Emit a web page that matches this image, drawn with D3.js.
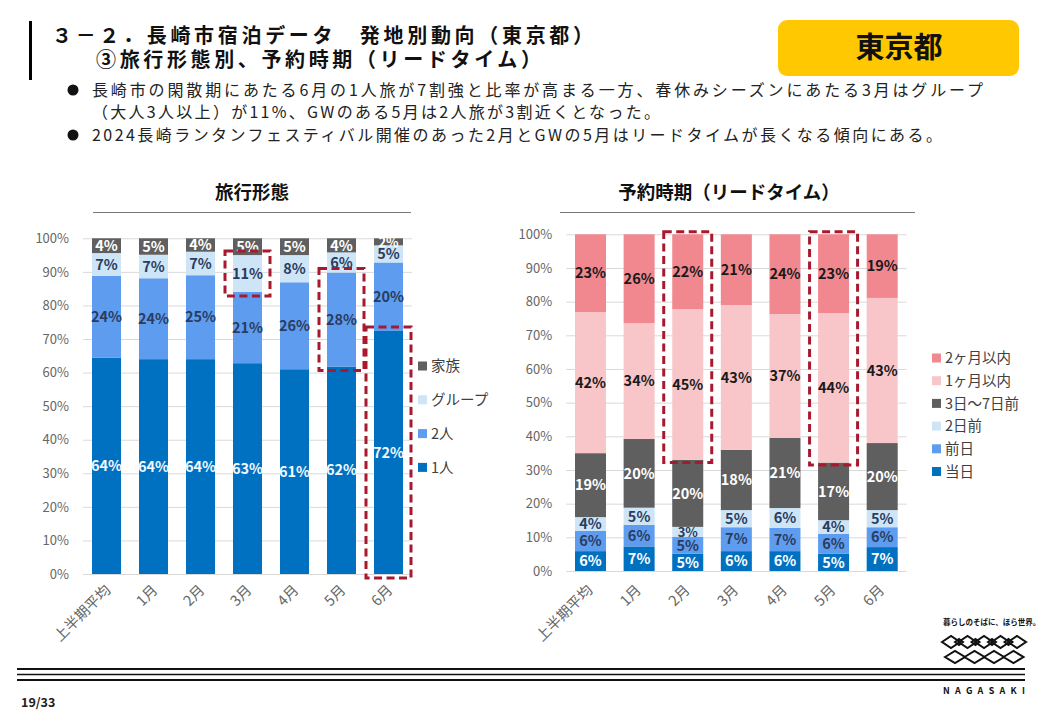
<!DOCTYPE html>
<html><head><meta charset="utf-8">
<script src="https://cdn.jsdelivr.net/npm/d3@7/dist/d3.min.js"></script>
<style>
html,body{margin:0;padding:0;background:#fff;}
svg{display:block;font-family:"Noto Sans CJK JP","Noto Sans",sans-serif;}
</style></head>
<body>
<svg id="c" width="1040" height="720"></svg>
<script>
// ---------- data ----------
const categories = ['上半期平均','1月','2月','3月','4月','5月','6月'];
const yTicks = [0,10,20,30,40,50,60,70,80,90,100];

// 旅行形態 (%)
const styleSeries = ['1人','2人','グループ','家族'];
const solo   = [64.4, 64.0, 64.0, 62.8, 61.0, 61.8, 72.4];
const pair   = [24.4, 24.1, 25.0, 21.2, 25.9, 28.0, 20.4];
const group  = [ 6.8,  7.0,  7.0, 11.0,  8.1,  6.0,  5.1];
const family = [ 4.4,  4.9,  4.0,  5.0,  5.0,  4.2,  2.1];

// 予約時期 (%)
const leadSeries = ['当日','前日','2日前','3日～7日前','1ヶ月以内','2ヶ月以内'];
const sameDay  = [ 5.9,  7.3,  5.1,  5.9,  5.9,  5.1,  7.1];
const prevDay  = [ 6.0,  6.4,  5.0,  7.1,  6.9,  5.9,  5.9];
const twoDays  = [ 4.1,  5.1,  3.0,  5.1,  5.9,  4.1,  5.1];
const week     = [19.0, 20.4, 19.9, 17.9, 20.8, 17.1, 19.9];
const month1   = [41.9, 34.4, 44.8, 43.0, 36.8, 44.4, 43.1];
const month2   = [23.1, 26.4, 22.2, 21.0, 23.7, 23.4, 18.9];

// highlighted (category, series range)
const styleHighlights = [['3月','グループ','グループ'],['5月','2人','2人'],['6月','1人','1人']];
const leadHighlights  = [['2月','1ヶ月以内','2ヶ月以内'],['5月','1ヶ月以内','2ヶ月以内']];

// ---------- drawing ----------
const svg = d3.select('#c');
const FONT = '"Noto Sans CJK JP","Noto Sans",sans-serif';

// header
svg.append('rect').attr('x',29).attr('y',21).attr('width',3).attr('height',59).attr('fill','#000');
svg.append('text').attr('x',52).attr('y',43).attr('font-size',20).attr('font-weight',700).attr('fill','#111')
  .attr('textLength',541).attr('lengthAdjust','spacing').text('３－２．長崎市宿泊データ　発地別動向（東京都）');
svg.append('text').attr('x',96).attr('y',67).attr('font-size',20).attr('font-weight',700).attr('fill','#111')
  .attr('textLength',445).attr('lengthAdjust','spacing').text('③旅行形態別、予約時期（リードタイム）');
svg.append('rect').attr('x',778).attr('y',20).attr('width',241).attr('height',56).attr('rx',9).attr('fill','#FFC800');
svg.append('text').attr('x',899).attr('y',58).attr('text-anchor','middle').attr('font-size',29).attr('font-weight',700).attr('fill','#111').text('東京都');

const bullets = [
  {b:true, x:92, y:96, w:891, t:'長崎市の閑散期にあたる6月の1人旅が7割強と比率が高まる一方、春休みシーズンにあたる3月はグループ'},
  {b:false, x:92, y:118, w:568, t:'（大人3人以上）が11%、GWのある5月は2人旅が3割近くとなった。'},
  {b:true, x:92, y:141, w:850, t:'2024長崎ランタンフェスティバル開催のあった2月とGWの5月はリードタイムが長くなる傾向にある。'}
];
bullets.forEach(d=>{
  if(d.b) svg.append('circle').attr('cx',73).attr('cy',d.y-6).attr('r',5.5).attr('fill','#111');
  svg.append('text').attr('x',d.x).attr('y',d.y).attr('font-size',16).attr('fill','#222')
    .attr('textLength',d.w).attr('lengthAdjust','spacing').text(d.t);
});

// footer
[[669,2.2],[674.5,1.6],[680,2.2]].forEach(([y,w])=>{
  svg.append('line').attr('x1',17).attr('x2',1025).attr('y1',y).attr('y2',y).attr('stroke','#111').attr('stroke-width',w);
});
svg.append('text').attr('x',21).attr('y',707).attr('font-size',12.5).attr('font-weight',700).attr('fill','#222').text('19/33');
// logo
svg.append('text').attr('x',943).attr('y',625).attr('font-size',7.5).attr('font-weight',700).attr('fill','#111').text('暮らしのそばに、ほら世界。');
const lg = svg.append('g').attr('fill','none').attr('stroke','#111').attr('stroke-width',2);
for(let i=0;i<5;i++){ const cx=951+i*16.5, cy=642; lg.append('path').attr('d',`M${cx-9},${cy}L${cx},${cy-6}L${cx+9},${cy}L${cx},${cy+6}Z`);}
for(let i=0;i<4;i++){ const cx=959+i*16.5, cy=642; lg.append('path').attr('d',`M${cx-4},${cy}L${cx},${cy-3}L${cx+4},${cy}L${cx},${cy+3}Z`);}
for(let i=0;i<4;i++){ const cx=955+i*19.5, cy=657; lg.append('path').attr('d',`M${cx-10},${cy}L${cx},${cy-6}L${cx+10},${cy}L${cx},${cy+6}Z`);}
svg.append('text').attr('x',943).attr('y',694).attr('font-size',9).attr('font-weight',700).attr('fill','#111')
  .attr('textLength',82).attr('lengthAdjust','spacing').text('NAGASAKI');

function drawChart(cfg){
  const g = svg.append('g');
  const x = d3.scaleBand().domain(categories).range(cfg.xr).paddingInner(cfg.pad).paddingOuter(cfg.pad/2);
  const y = d3.scaleLinear().domain([0,100]).range(cfg.yr);
  // title
  g.append('text').attr('x',cfg.titleX).attr('y',199).attr('text-anchor','middle').attr('font-size',18.5).attr('font-weight',700).attr('fill','#111').text(cfg.title);
  g.append('line').attr('x1',cfg.ul[0]).attr('x2',cfg.ul[1]).attr('y1',212.5).attr('y2',212.5).attr('stroke','#777').attr('stroke-width',1);
  // grid + y axis
  const ya = d3.axisLeft(y).tickValues(yTicks).tickFormat(d=>d+'%').tickSize(-(cfg.xr[1]-cfg.xr[0])).tickPadding(14);
  const ag = g.append('g').attr('transform',`translate(${cfg.xr[0]},0)`).call(ya);
  ag.select('.domain').remove();
  ag.selectAll('line').attr('stroke','#D9D9D9');
  ag.selectAll('text').attr('font-size',13).attr('fill','#666').attr('font-family',FONT);
  // stacks
  const rows = categories.map((c,i)=>{const r={cat:c}; cfg.series.forEach((s,k)=>r[s]=cfg.values[k][i]); return r;});
  const stack = d3.stack().keys(cfg.series)(rows);
  const clipId = 'clip'+cfg.id;
  g.append('clipPath').attr('id',clipId).append('rect').attr('x',cfg.xr[0]).attr('y',cfg.yr[1]-1).attr('width',cfg.xr[1]-cfg.xr[0]).attr('height',cfg.yr[0]-cfg.yr[1]+2);
  stack.forEach((layer,k)=>{
    g.append('g').selectAll('rect').data(layer).join('rect')
      .attr('x',d=>x(d.data.cat)).attr('width',x.bandwidth())
      .attr('y',d=>y(d[1])).attr('height',d=>y(d[0])-y(d[1]))
      .attr('fill',cfg.colors[k]);
  });
  const lab = g.append('g').attr('clip-path',`url(#${clipId})`);
  stack.forEach((layer,k)=>{
    lab.selectAll(null).data(layer).join('text')
      .attr('x',d=>x(d.data.cat)+x.bandwidth()/2).attr('y',d=>y((d[0]+d[1])/2))
      .attr('dy','0.36em').attr('text-anchor','middle')
      .attr('font-size',d=>(d[1]-d[0])<3.5?13:14.5).attr('font-weight',700)
      .attr('fill',cfg.labelColors[k]).text(d=>Math.round(d[1]-d[0])+'%');
  });
  // x labels
  g.append('g').selectAll('text').data(categories).join('text')
    .attr('transform',d=>`translate(${x(d)+x.bandwidth()/2+cfg.xlOff},${cfg.yr[0]+cfg.xlY}) rotate(-45)`)
    .attr('text-anchor','end').attr('font-size',14.5).attr('fill','#666').text(d=>d);
  // highlights
  cfg.highlights.forEach(([cat,s0,s1])=>{
    const k0 = cfg.series.indexOf(s0), k1 = cfg.series.indexOf(s1);
    const i = categories.indexOf(cat);
    const lo = stack[k0][i][0], hi = stack[k1][i][1];
    const x0 = x(cat)-cfg.hpx, x1 = x(cat)+x.bandwidth()+cfg.hpx;
    const yt = y(hi)-cfg.hpy, yb = y(lo)+cfg.hpy;
    g.append('rect').attr('x',x0).attr('y',yt).attr('width',x1-x0).attr('height',yb-yt)
      .attr('fill','none').attr('stroke','#A8192E').attr('stroke-width',3).attr('stroke-dasharray','8,4.5');
  });
  // legend
  const lgd = g.append('g');
  cfg.legend.forEach((k,j)=>{
    const yy = cfg.legY[0]+j*cfg.legY[1];
    lgd.append('rect').attr('x',cfg.legX).attr('y',yy-4.5).attr('width',9).attr('height',9).attr('fill',cfg.colors[cfg.series.indexOf(k)]);
    lgd.append('text').attr('x',cfg.legX+13).attr('y',yy).attr('dy','0.36em').attr('font-size',14.5).attr('fill','#404040').text(k);
  });
}

drawChart({
  id:'L', title:'旅行形態', titleX:252, ul:[93,411],
  xr:[83,412], yr:[574,238.3], pad:18/47,
  series:styleSeries, values:[solo,pair,group,family],
  colors:['#0070C0','#5E9CF0','#CDE5F7','#5F5F5F'],
  labelColors:['#F2F8FF','#2B3C5E','#2B3C5E','#FFFFFF'],
  highlights:styleHighlights, hpx:8, hpy:4,
  xlOff:5, xlY:17,
  legend:['家族','グループ','2人','1人'], legX:418, legY:[366,33.8]
});
drawChart({
  id:'R', title:'予約時期（リードタイム）', titleX:729, ul:[560,915],
  xr:[566.2,906.5], yr:[571,234.3], pad:17.6/48.6,
  series:leadSeries, values:[sameDay,prevDay,twoDays,week,month1,month2],
  colors:['#0070C0','#5E9CF0','#CDE5F7','#5F5F5F','#F8C6C9','#F2888F'],
  labelColors:['#FFFFFF','#2B3C5E','#2B3C5E','#FFFFFF','#1A1A1A','#1A1A1A'],
  highlights:leadHighlights, hpx:8.5, hpy:2.5,
  xlOff:3, xlY:20,
  legend:['2ヶ月以内','1ヶ月以内','3日～7日前','2日前','前日','当日'], legX:932, legY:[358,22.7]
});
</script>
</body></html>
